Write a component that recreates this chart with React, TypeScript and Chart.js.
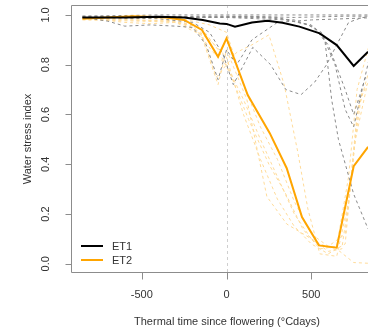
import React, { useEffect, useRef } from 'react';
import { Chart, registerables } from 'chart.js';

Chart.register(...registerables);

// Axis ranges and ticks
const xMin = -917.5;
const xMax = 834.5;
const yMin = -0.037;
const yMax = 1.04;
const xTicks = [-500, 0, 500];
const xTickLabels = ['-500', '0', '500'];
const yTicks = [0, 0.2, 0.4, 0.6, 0.8, 1.0];
const yTickLabels = ['0.0', '0.2', '0.4', '0.6', '0.8', '1.0'];

// Mean series
const et1X = [-850, -600, -400, -250, -140, -40, 0, 50, 150, 240, 330, 430, 550, 650, 750, 835, 900];
const et1Y = [0.99, 0.99, 0.993, 0.99, 0.98, 0.966, 0.964, 0.953, 0.97, 0.977, 0.969, 0.953, 0.926, 0.879, 0.795, 0.852, 0.88];
const et2X = [-850, -700, -550, -360, -250, -145, -50, 0, 125, 255, 355, 445, 545, 650, 750, 835, 900];
const et2Y = [0.985, 0.99, 0.995, 0.99, 0.98, 0.94, 0.832, 0.906, 0.678, 0.525, 0.384, 0.188, 0.074, 0.065, 0.392, 0.47, 0.52];

// Individual ET1 curves (grey dashed)
const g1 = [[-850, 0.995], [-400, 1.0], [0, 1.0], [400, 1.0], [900, 1.0]];
const g2 = [[-850, 0.99], [-500, 0.995], [-200, 0.99], [100, 0.995], [400, 0.99], [700, 0.995], [900, 0.995]];
const g3 = [[-850, 0.99], [-700, 0.975], [-600, 0.955], [-450, 0.96], [-300, 0.955], [-200, 0.95], [-120, 0.88], [-50, 0.74], [0, 0.86], [60, 0.8], [150, 0.9], [300, 0.97], [500, 0.98], [900, 0.99]];
const g4 = [[-850, 0.99], [-400, 0.985], [-200, 0.97], [-100, 0.93], [-20, 0.84], [40, 0.72], [155, 0.87], [260, 0.8], [350, 0.7], [440, 0.68], [520, 0.73], [590, 0.8], [650, 0.88], [720, 0.97], [800, 0.99], [900, 0.99]];
const g5 = [[-850, 0.99], [-200, 0.99], [200, 0.99], [400, 0.98], [520, 0.95], [580, 0.9], [620, 0.66], [660, 0.5], [750, 0.28], [835, 0.14], [900, 0.08]];
const g6 = [[-850, 0.99], [0, 0.995], [300, 0.99], [480, 0.96], [560, 0.93], [640, 0.8], [700, 0.62], [750, 0.55], [800, 0.7], [850, 0.85]];
const g7 = [[-850, 0.995], [0, 0.99], [350, 0.98], [500, 0.96], [600, 0.88], [700, 0.7], [750, 0.6], [820, 0.75], [900, 0.8]];

// Individual ET2 curves (light orange dashed)
const o1 = [[-850, 0.99], [-600, 0.97], [-450, 0.965], [-300, 0.97], [-150, 0.92], [-50, 0.72], [0, 0.86], [120, 0.66], [238, 0.27], [355, 0.16], [550, 0.08], [668, 0.05], [750, 0.005], [900, 0.0]];
const o2 = [[-850, 0.985], [-500, 0.98], [-300, 0.975], [-150, 0.93], [-60, 0.75], [0, 0.8], [60, 0.85], [150, 0.88], [250, 0.92], [340, 0.72], [420, 0.45], [480, 0.22], [550, 0.04], [650, 0.03], [720, 0.25], [770, 0.6], [850, 0.8]];
const o3 = [[-850, 0.99], [-400, 0.985], [-200, 0.96], [-80, 0.85], [0, 0.8], [100, 0.66], [200, 0.5], [300, 0.35], [400, 0.2], [500, 0.1], [600, 0.05], [680, 0.06], [730, 0.3], [780, 0.65], [850, 0.75]];
const o4 = [[-850, 0.98], [-500, 0.975], [-250, 0.97], [-100, 0.9], [0, 0.83], [100, 0.6], [200, 0.42], [300, 0.26], [400, 0.15], [500, 0.08], [600, 0.04], [700, 0.08], [750, 0.45], [800, 0.7]];
const o5 = [[-850, 0.985], [-600, 0.98], [-350, 0.975], [-150, 0.95], [-50, 0.86], [30, 0.75], [130, 0.58], [250, 0.4], [350, 0.28], [450, 0.14], [550, 0.06], [650, 0.07], [720, 0.35], [770, 0.7], [850, 0.9]];
const o6 = [[-850, 0.99], [-300, 0.99], [-100, 0.96], [0, 0.93], [100, 0.72], [200, 0.55], [300, 0.42], [400, 0.25], [500, 0.12], [600, 0.07], [700, 0.12], [760, 0.5], [830, 0.72]];

const greyCurves = [g1, g2, g3, g4, g5, g6, g7];
const orangeCurves = [o1, o2, o3, o4, o5, o6];

const legendLabels = ['ET1', 'ET2'];
const xTitle = 'Thermal time since flowering (\u00B0Cdays)';
const yTitle = 'Water stress index';

const FONT = '11px "Liberation Sans", Arial, Helvetica, sans-serif';
const TEXT = '#333333';
const AXIS = '#8c8c8c';
const ET1_COL = '#000000';
const ET2_COL = '#FFA500';
const GREY_COL = '#8a8a8a';
const ORANGE_LIGHT = '#FFDB99';

const rAxes = {
  id: 'rAxes',
  beforeDatasetsDraw(chart: any) {
    const { ctx, chartArea, scales } = chart;
    const px = Math.round(scales.x.getPixelForValue(0)) + 0.5;
    ctx.save();
    ctx.strokeStyle = '#cfcfcf';
    ctx.lineWidth = 1;
    ctx.setLineDash([3, 3]);
    ctx.beginPath();
    ctx.moveTo(px, chartArea.top);
    ctx.lineTo(px, chartArea.bottom);
    ctx.stroke();
    ctx.restore();
  },
  afterDatasetsDraw(chart: any) {
    const { ctx, chartArea, scales } = chart;
    const xs = scales.x;
    const ys = scales.y;
    const L = chartArea.left + 0.5;
    const T = chartArea.top + 0.5;
    const B = chartArea.bottom - 0.5;
    const R = chartArea.right;
    ctx.save();
    ctx.strokeStyle = AXIS;
    ctx.lineWidth = 1;
    ctx.setLineDash([]);
    // box (left, top, bottom)
    ctx.beginPath();
    ctx.moveTo(R, T);
    ctx.lineTo(L, T);
    ctx.lineTo(L, B);
    ctx.lineTo(R, B);
    ctx.stroke();
    // y ticks
    ctx.beginPath();
    yTicks.forEach((v) => {
      const py = Math.round(ys.getPixelForValue(v)) + 0.5;
      ctx.moveTo(L - 6, py);
      ctx.lineTo(L, py);
    });
    // x ticks
    xTicks.forEach((v) => {
      const px = Math.round(xs.getPixelForValue(v)) + 0.5;
      ctx.moveTo(px, B);
      ctx.lineTo(px, B + 7);
    });
    ctx.stroke();

    ctx.fillStyle = TEXT;
    ctx.font = FONT;
    ctx.textAlign = 'center';
    ctx.textBaseline = 'middle';
    xTicks.forEach((v, i) => {
      ctx.fillText(xTickLabels[i], xs.getPixelForValue(v), 295);
    });
    yTicks.forEach((v, i) => {
      ctx.save();
      ctx.translate(46, ys.getPixelForValue(v));
      ctx.rotate(-Math.PI / 2);
      ctx.fillText(yTickLabels[i], 0, 0);
      ctx.restore();
    });
    ctx.fillText(xTitle, 227, 322);
    ctx.save();
    ctx.translate(28, (chartArea.top + chartArea.bottom) / 2);
    ctx.rotate(-Math.PI / 2);
    ctx.fillText(yTitle, 0, 0);
    ctx.restore();

    // legend
    const legCols = [ET1_COL, ET2_COL];
    const legY = [246, 260];
    ctx.lineWidth = 2;
    legendLabels.forEach((lab, i) => {
      ctx.strokeStyle = legCols[i];
      ctx.beginPath();
      ctx.moveTo(81, legY[i]);
      ctx.lineTo(103, legY[i]);
      ctx.stroke();
      ctx.textAlign = 'left';
      ctx.fillText(lab, 112, legY[i] + 1);
    });
    ctx.restore();
  },
};

const toPts = (arr: number[][]) => arr.map(([x, y]) => ({ x, y }));
const zipPts = (xs: number[], ys: number[]) => xs.map((x, i) => ({ x, y: ys[i] }));

export default function App() {
  const ref = useRef<HTMLCanvasElement | null>(null);
  useEffect(() => {
    if (!ref.current) return;
    const datasets: any[] = [
      { label: 'ET1', data: zipPts(et1X, et1Y), borderColor: ET1_COL, borderWidth: 2, pointRadius: 0, clip: 0 },
      { label: 'ET2', data: zipPts(et2X, et2Y), borderColor: ET2_COL, borderWidth: 2, pointRadius: 0, clip: 0 },
      ...greyCurves.map((c, i) => ({ label: 'g' + i, data: toPts(c), borderColor: GREY_COL, borderWidth: 1, borderDash: [3, 3], pointRadius: 0, clip: 0 })),
      ...orangeCurves.map((c, i) => ({ label: 'o' + i, data: toPts(c), borderColor: ORANGE_LIGHT, borderWidth: 1, borderDash: [3, 3], pointRadius: 0, clip: 0 })),
    ];
    const chart = new Chart(ref.current, {
      type: 'line',
      data: { datasets },
      options: {
        animation: false,
        responsive: false,
        devicePixelRatio: 1,
        layout: { padding: { left: 71, top: 5, right: 0, bottom: 58 } },
        plugins: { legend: { display: false }, tooltip: { enabled: false } },
        elements: { line: { tension: 0 } },
        scales: {
          x: { type: 'linear', min: xMin, max: xMax, display: false },
          y: { type: 'linear', min: yMin, max: yMax, display: false },
        },
      },
      plugins: [rAxes],
    });
    return () => chart.destroy();
  }, []);
  return (
    <div style={{ position: 'absolute', left: 0, top: 0, width: 368, height: 331, background: '#fff' }}>
      <canvas ref={ref} width={368} height={331} style={{ width: 368, height: 331, display: 'block' }} />
    </div>
  );
}
